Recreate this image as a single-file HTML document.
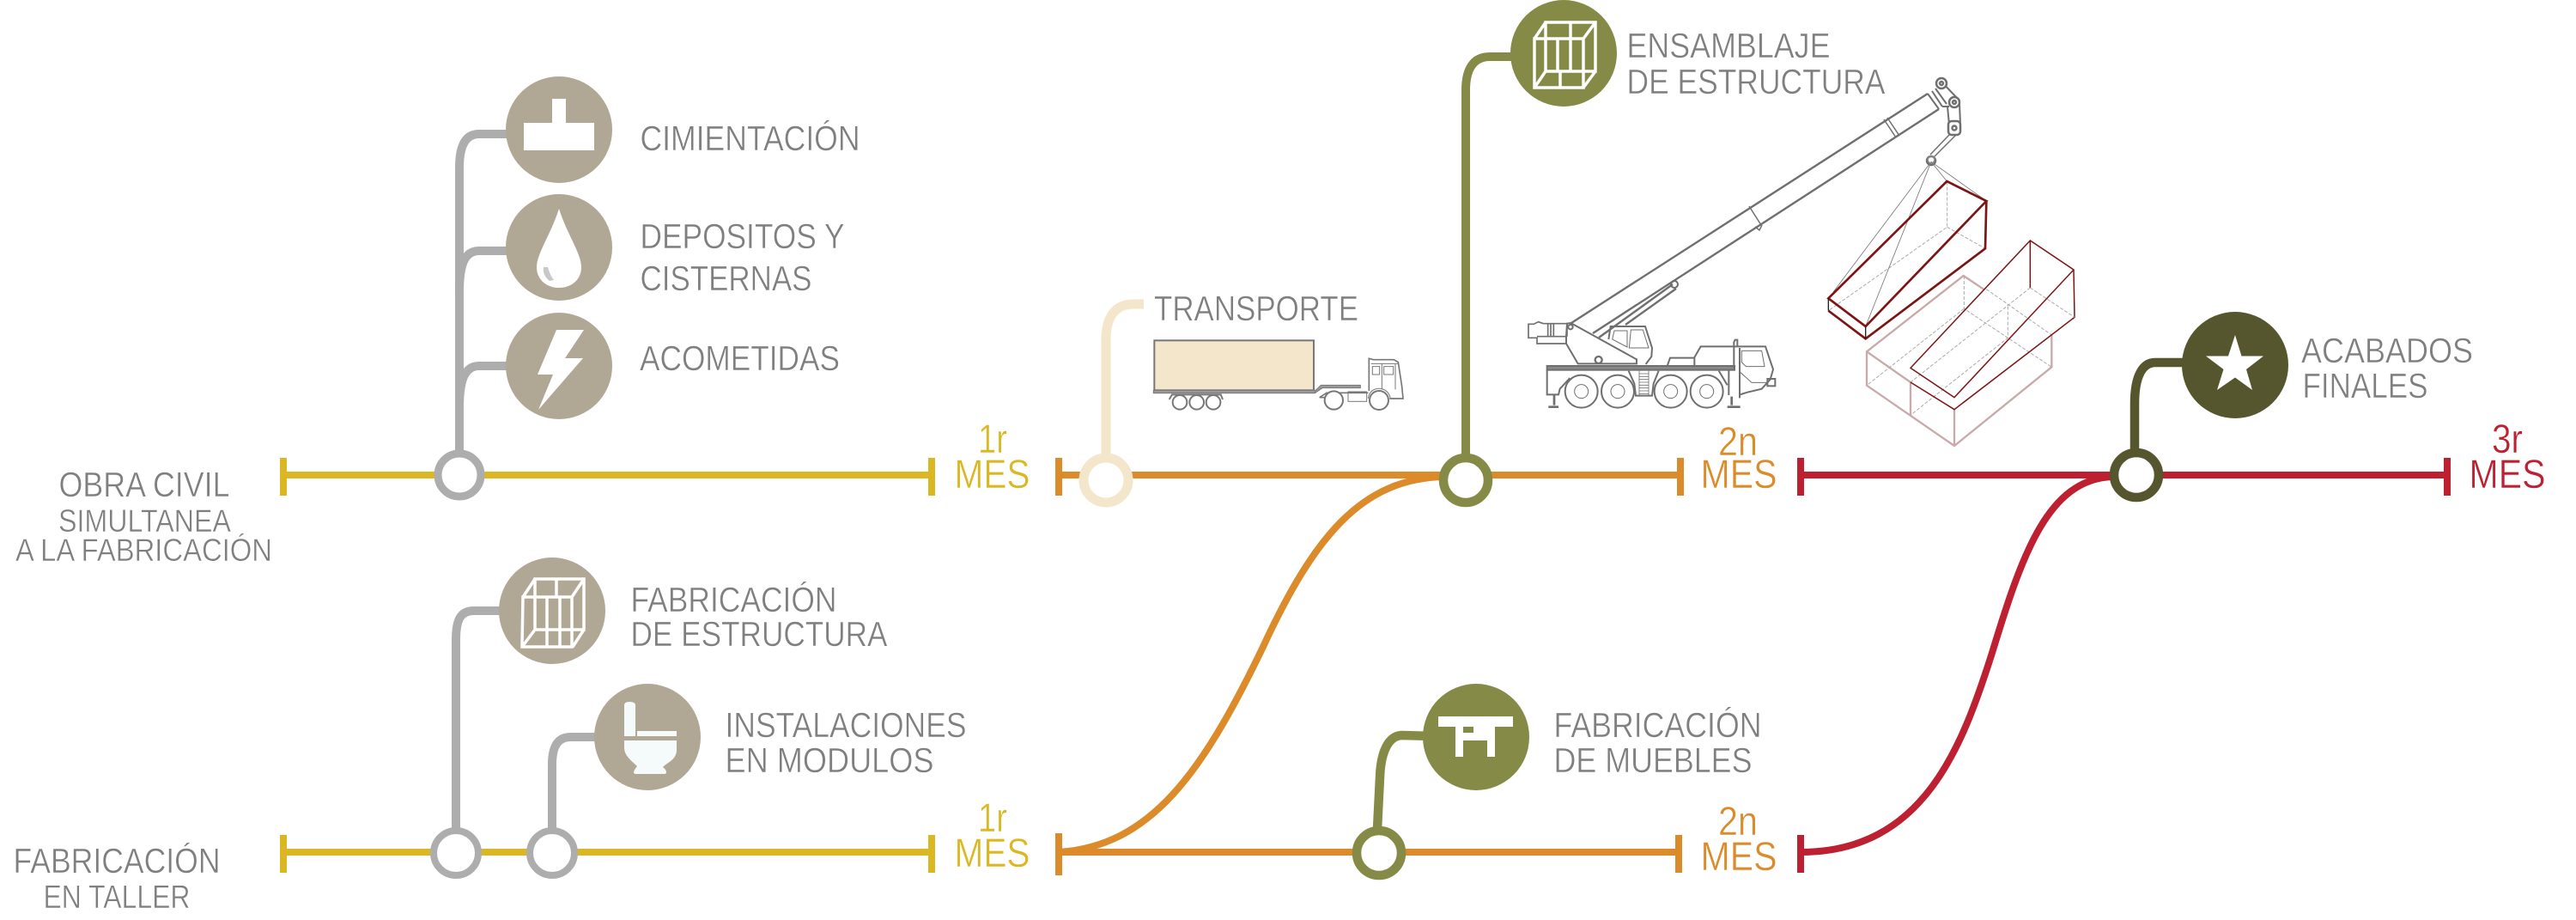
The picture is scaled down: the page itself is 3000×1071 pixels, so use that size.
<!DOCTYPE html>
<html><head><meta charset="utf-8"><style>
html,body{margin:0;padding:0;background:#fff}
svg{display:block}
text{font-family:"Liberation Sans",sans-serif;stroke:#fff;stroke-width:.5;font-size:41px}
.l{fill:#7f7f7f}
.y{fill:#dcb724;font-size:47px}.o{fill:#dc8b2a;font-size:47px}.r{fill:#bd2030;font-size:47px}
.m{fill:none;stroke-width:8}
</style></head><body>
<svg width="3000" height="1071" viewBox="0 0 3000 1071" xmlns="http://www.w3.org/2000/svg">
<rect width="3000" height="1071" fill="#fff"/>

<!-- time lines -->
<g class="m" stroke="#dcb724"><path d="M330 553H1085M330 533V577M1085 533V577M330 992H1085M330 972V1016M1085 972V1016"/></g>
<g class="m" stroke="#dc8b2a"><path d="M1233 553H1957M1233 533V577M1957 533V577M1233 992H1955M1233 970V1019M1955 972V1016"/>
<path d="M1233 992C1340 985 1400 900 1470 755C1530 625 1585 558 1680 555"/></g>
<g class="m" stroke="#bd2030"><path d="M2097 553H2850M2097 533V577M2850 533V577M2097 972V1016"/>
<path d="M2097 992C2240 992 2285 870 2320 760C2355 645 2385 558 2460 555"/></g>

<!-- connectors -->
<g fill="none" stroke="#adadad" stroke-width="10">
<path d="M535 525V195C535 170 542 156 558 156H595"/>
<path d="M535 340C535 310 540 292 558 292H595"/>
<path d="M535 475C535 445 540 426 558 426H595"/>
<path d="M531 965V745C531 720 537 711 552 711H590"/>
<path d="M643 965V890C643 868 650 858 665 858H700"/>
</g>
<path d="M1288 530V395C1288 370 1298 354 1320 354H1332" fill="none" stroke="#f3e6ca" stroke-width="11"/>
<path d="M1707 530V105C1707 80 1716 66 1735 66H1770" fill="none" stroke="#858a47" stroke-width="10"/>
<path d="M1604 965L1607 905C1608 875 1617 857 1632 856L1670 857" fill="none" stroke="#858a47" stroke-width="10.5"/>
<path d="M2486 525V470C2486 438 2495 422 2510 422H2550" fill="none" stroke="#55562e" stroke-width="10.5"/>

<!-- rings -->
<g fill="#fff">
<circle cx="535" cy="553" r="25" stroke="#adadad" stroke-width="9"/>
<circle cx="531" cy="993" r="26" stroke="#adadad" stroke-width="8"/>
<circle cx="643" cy="993" r="26" stroke="#adadad" stroke-width="8"/>
<circle cx="1288" cy="559" r="26" stroke="#f3e6ca" stroke-width="11"/>
<circle cx="1707" cy="559" r="26" stroke="#858a47" stroke-width="10.5"/>
<circle cx="1606" cy="993" r="26" stroke="#858a47" stroke-width="10.5"/>
<circle cx="2488" cy="553" r="26" stroke="#55562e" stroke-width="10.5"/>
</g>

<!-- circles -->
<circle cx="651" cy="151" r="62" fill="#b1a795"/>
<circle cx="651" cy="288" r="62" fill="#b1a795"/>
<circle cx="651" cy="426" r="62" fill="#b1a795"/>
<circle cx="643" cy="711" r="62" fill="#b1a795"/>
<circle cx="754" cy="858" r="62" fill="#b1a795"/>
<circle cx="1821" cy="62" r="62" fill="#858a47"/>
<circle cx="1719" cy="858" r="62" fill="#858a47"/>
<circle cx="2603" cy="425" r="62" fill="#55562e"/>

<!-- icons -->
<path fill="#fff" d="M643 115H659V143H692V175H610V143H643Z"/>
<path fill="#fff" d="M651 243C660 272 677 295 677 311C677 326 665 335 651 335C637 335 625 326 625 311C625 295 642 272 651 243Z"/>
<path fill="#c8c8c8" d="M633 311L638 311C640 318 642 322 645 326L640 327C635 323 632 318 633 311Z"/>
<path fill="#fff" d="M648 384H680L658 417H679L627 477L644 436H626Z"/>

<g fill="none" stroke="#fff" stroke-width="3.5" transform="translate(643 711)">
<path d="M-20 -37H37V22H-20ZM-34 -16H23V42H-35ZM-34 -16L-20 -37M23 -16L37 -37M24 42L37 22M-35 42L-20 22"/>
<path d="M-6 -16V42M9 -16V42M5 -37V-16M9 22V42"/>
</g>
<g fill="none" stroke="#fff" stroke-width="3.5" transform="translate(1821 64)">
<path d="M-21 -38H37V19H-21ZM-34 -19H23V38H-34ZM-34 -19L-21 -38M23 -19L37 -38M23 38L37 19M-34 38L-21 19"/>
<path d="M-7 -19V19M8 -19V19M8 -38V-19M-4 19V38"/>
</g>
<path fill="#f5fafa" d="M727 821Q727 817 733 817Q740 817 740 821V857H727ZM742 851H788V857H742ZM727 862H788V873C788 885 776 888 772 893C777 897 777 901 774 901H741C736 901 738 897 742 892C735 885 727 880 727 870Z"/>
<path fill="#fff" d="M1675 834H1762V846H1741V881H1732V862H1704V881H1695V846H1675ZM1704 846V853H1716V846Z"/>
<path fill="#fff" d="M2603 390L2610.5 414.5H2636L2616 430L2623 454L2603 439.5L2582 454L2589.5 430L2569 414.5H2595Z"/>

<!-- labels -->
<g class="l">
<text x="745.5" y="175" textLength="256" lengthAdjust="spacingAndGlyphs">CIMIENTACIÓN</text>
<text x="745.5" y="289" textLength="238" lengthAdjust="spacingAndGlyphs">DEPOSITOS Y</text>
<text x="745.5" y="338" textLength="200" lengthAdjust="spacingAndGlyphs">CISTERNAS</text>
<text x="745" y="431" textLength="233" lengthAdjust="spacingAndGlyphs">ACOMETIDAS</text>
<text x="68.5" y="578" textLength="199" lengthAdjust="spacingAndGlyphs">OBRA CIVIL</text>
<text x="68" y="619" style="font-size:37px" textLength="201" lengthAdjust="spacingAndGlyphs">SIMULTANEA</text>
<text x="18" y="653" style="font-size:37px" textLength="299" lengthAdjust="spacingAndGlyphs">A LA FABRICACIÓN</text>
<text x="734.5" y="712" textLength="240" lengthAdjust="spacingAndGlyphs">FABRICACIÓN</text>
<text x="734.5" y="752" textLength="299" lengthAdjust="spacingAndGlyphs">DE ESTRUCTURA</text>
<text x="844.5" y="858" textLength="281" lengthAdjust="spacingAndGlyphs">INSTALACIONES</text>
<text x="844.5" y="899" textLength="243" lengthAdjust="spacingAndGlyphs">EN MODULOS</text>
<text x="15.5" y="1016" textLength="241" lengthAdjust="spacingAndGlyphs">FABRICACIÓN</text>
<text x="50.5" y="1057" style="font-size:38px" textLength="171" lengthAdjust="spacingAndGlyphs">EN TALLER</text>
<text x="1344" y="373" textLength="238" lengthAdjust="spacingAndGlyphs">TRANSPORTE</text>
<text x="1894.5" y="67" textLength="237" lengthAdjust="spacingAndGlyphs">ENSAMBLAJE</text>
<text x="1894.5" y="109" textLength="301" lengthAdjust="spacingAndGlyphs">DE ESTRUCTURA</text>
<text x="1809.5" y="858" textLength="242" lengthAdjust="spacingAndGlyphs">FABRICACIÓN</text>
<text x="1809.5" y="899" textLength="231" lengthAdjust="spacingAndGlyphs">DE MUEBLES</text>
<text x="2680" y="422" textLength="200" lengthAdjust="spacingAndGlyphs">ACABADOS</text>
<text x="2681.5" y="463" textLength="146" lengthAdjust="spacingAndGlyphs">FINALES</text>
</g>
<text class="y" x="1139" y="527" textLength="34" lengthAdjust="spacingAndGlyphs">1r</text>
<text class="y" x="1111.5" y="568" textLength="88" lengthAdjust="spacingAndGlyphs">MES</text>
<text class="y" x="1139" y="968" textLength="34" lengthAdjust="spacingAndGlyphs">1r</text>
<text class="y" x="1111.5" y="1009" textLength="88" lengthAdjust="spacingAndGlyphs">MES</text>
<text class="o" x="2001" y="530" textLength="46" lengthAdjust="spacingAndGlyphs">2n</text>
<text class="o" x="1980.5" y="568" textLength="89" lengthAdjust="spacingAndGlyphs">MES</text>
<text class="o" x="2001" y="972" textLength="46" lengthAdjust="spacingAndGlyphs">2n</text>
<text class="o" x="1980.5" y="1013" textLength="89" lengthAdjust="spacingAndGlyphs">MES</text>
<text class="r" x="2902" y="527" textLength="36" lengthAdjust="spacingAndGlyphs">3r</text>
<text class="r" x="2875.5" y="568" textLength="89" lengthAdjust="spacingAndGlyphs">MES</text>

<!-- truck -->
<g transform="translate(1200 320) scale(.33333)" fill="none" stroke="#777" stroke-width="5">
<rect x="433" y="229" width="557" height="174" fill="#f3e6ca" stroke-width="6"/>
<rect x="430" y="403" width="565" height="10" fill="#999" stroke-width="3"/>
<path d="M995 405L1015 385H1153V395H1020L995 412" fill="#999" stroke-width="3"/>
<path d="M485 435L495 418H665L672 435" stroke-width="6"/>
<circle cx="522" cy="445" r="25" fill="#fff" stroke-width="6"/><circle cx="581" cy="445" r="25" fill="#fff" stroke-width="6"/><circle cx="639" cy="445" r="25" fill="#fff" stroke-width="6"/>
<path d="M1183 405V292L1198 296H1270L1285 305L1298 390L1302 432H1255" stroke-width="5"/>
<path d="M1195 320H1220V348H1195ZM1235 320H1268V348H1235ZM1228 310V400M1275 312V400M1190 310H1285" stroke-width="3"/>
<path d="M1010 428L1035 412H1180M1010 428H1030" stroke-width="5"/>
<rect x="1110" y="408" width="65" height="34" stroke-width="3"/>
<circle cx="1060" cy="438" r="32" fill="#fff" stroke-width="6"/><circle cx="1218" cy="438" r="33" fill="#fff" stroke-width="6"/>
<path d="M1180 432C1185 385 1250 385 1258 432" stroke-width="3"/>
</g>

<!-- crane -->
<g fill="none" stroke="#6f6f6f" stroke-width="2.4">
<path d="M1830 376L2245 109M1855 388L2258 127M1862 393L1948 331M1893 378L1952 336"/>
<circle cx="1950" cy="331" r="4" stroke-width="2"/>
<path d="M2194 139L2208 160M2198 137L2212 158M2037 240L2051 262M2052 262L2049 268L2044 264" stroke-width="1.5"/>
<path d="M2245 109L2258 127M2250 106L2262 124M2254 103L2267 121" stroke-width="2"/>
<path d="M2258 92L2282 117M2262 124H2270M2268 124L2270 145M2282 120L2283 145" stroke-width="2"/>
<circle cx="2261" cy="97" r="6" fill="#fff" stroke-width="2.5"/><circle cx="2261" cy="97" r="2"/>
<circle cx="2276" cy="119" r="6" fill="#fff" stroke-width="2.5"/><circle cx="2276" cy="119" r="2"/>
<rect x="2269" y="141" width="14" height="16" rx="4" fill="#fff" stroke-width="2.5"/><circle cx="2276" cy="149" r="2.5"/>
<path d="M2270 157L2248 180M2278 157L2253 182" stroke-width="1.5"/>
<circle cx="2249" cy="187" r="5" stroke-width="2.5"/>
</g>
<g transform="translate(1760 340) scale(.33333)" fill="none" stroke="#6f6f6f" stroke-width="6">
<path d="M112 110L95 104L78 112H60V160H90V180H192V155H90M112 110H195V155M128 112V153M138 112V153M148 112V153" stroke-width="5"/>
<path d="M208 108L438 235V250H233L192 180V155L195 110Z"/>
<circle cx="207" cy="122" r="8"/><circle cx="305" cy="237" r="12" stroke-width="7"/>
<path d="M340 165L347 120H468L492 195L490 225L470 252"/>
<path d="M360 135H405V192L353 165ZM418 132H460L480 195H412Z" stroke-width="3"/>
<rect x="125" y="258" width="655" height="14" fill="#8a8a8a"/>
<path d="M125 272V358H165L170 338L205 300"/>
<path d="M545 258L555 230H640V262M640 228L662 190H888L915 270L905 305L875 338L825 350L800 358"/>
<path d="M805 205H875L885 260H820L805 245ZM800 280L840 316H895" stroke-width="3"/>
<rect x="895" y="303" width="27" height="25"/>
<path d="M778 265V175L782 167H790V190M760 272V360M798 195V370M725 275L755 325"/>
<path d="M150 358V395M130 401H165M770 365V395M755 401H800" stroke-width="8"/>
<path d="M410 275L430 320L435 362H492L497 320L515 275"/>
<path d="M447 275V360M480 275V360M447 285H480M447 295H480M447 305H480M447 315H480M447 325H480M447 335H480M447 345H480M447 355H480" stroke-width="2.5"/>
<circle cx="245" cy="347" r="57" fill="#fff"/><circle cx="245" cy="347" r="24" stroke-width="3"/>
<circle cx="372" cy="347" r="57" fill="#fff"/><circle cx="372" cy="347" r="24" stroke-width="3"/>
<circle cx="557" cy="347" r="57" fill="#fff"/><circle cx="557" cy="347" r="24" stroke-width="3"/>
<circle cx="683" cy="347" r="57" fill="#fff"/><circle cx="683" cy="347" r="24" stroke-width="3"/>
</g>

<!-- boxes -->
<g transform="translate(2100 160) scale(.33333)" fill="none">
<!-- pink -->
<g stroke="#c9aaaa" stroke-width="7">
<path d="M630 530L560 483L222 748V866L528 1077L868 802V690"/>
<path d="M222 748L375 855V970M528 950V1077" />
</g>
<g stroke="#aaa" stroke-width="3" stroke-dasharray="12 6">
<path d="M562 483V598L868 802M562 598L222 866M640 530L868 690M715 590V700L375 970M793 525L375 855"/>
</g>
<!-- hanging box hidden edges -->
<g stroke="#aaa" stroke-width="3" stroke-dasharray="12 6">
<path d="M503 155V313L88 605M503 313L636 388"/>
</g>
<g stroke="#777" stroke-width="2.5"><path d="M447 85L105 540M447 85L218 660M447 85L502 153M447 85L640 222"/></g>
<g stroke="#7d1414" stroke-width="8">
<path d="M88 562L502 153L640 222L218 660ZM88 605L218 703L636 388L640 222"/>
</g>
<g stroke="#222" stroke-width="4"><path d="M88 562V605M218 660V703"/></g>
<!-- second -->
<g stroke="#7d1414" stroke-width="4.5">
<path d="M375 805L793 360L945 462L528 908ZM375 855L528 950L948 628L945 462M793 360V525"/>
</g>
<path d="M793 525L948 628" stroke="#aaa" stroke-width="3" stroke-dasharray="12 6"/>
<circle cx="447" cy="78" r="12" stroke="#888" stroke-width="5"/>
</g>
</svg>
</body></html>
